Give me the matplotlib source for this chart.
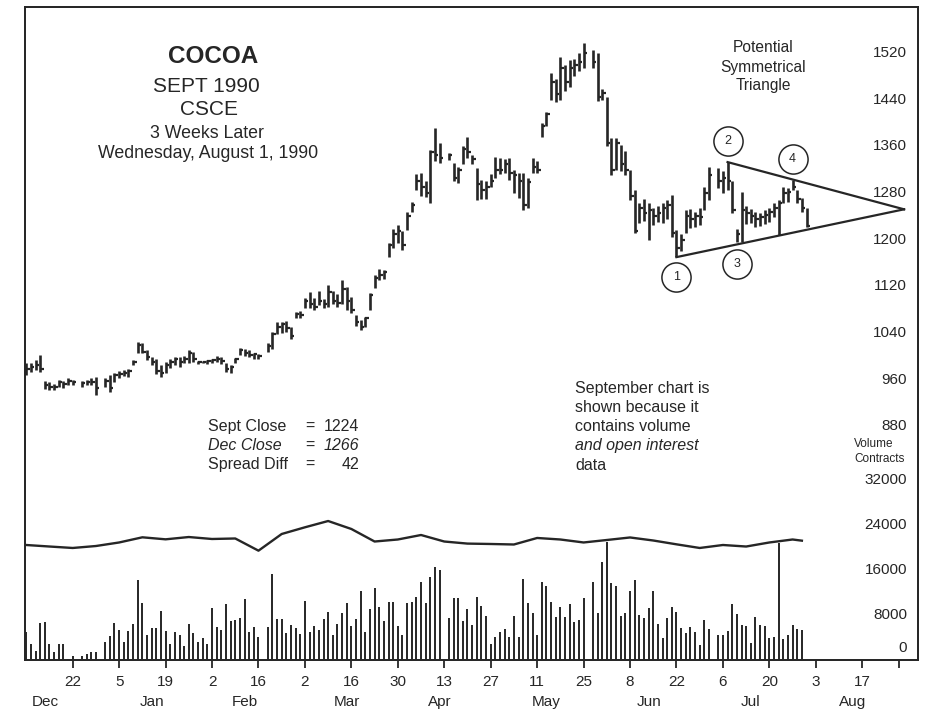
import numpy as np
import pandas as pd
import matplotlib
matplotlib.use('Agg')
import matplotlib.pyplot as plt

plt.rcParams['font.family'] = ['Liberation Sans', 'DejaVu Sans']

# ---------------- data ----------------
holidays = ['1989-12-25', '1990-01-01', '1990-02-19', '1990-04-13', '1990-05-28', '1990-07-04']
price_start, price_end = '1989-12-08', '1990-08-01'
volume_end = '1990-07-31'

high = [988,
        988, 993, 1002, 958, 955,
        952, 960, 958, 962, 960,
        958, 960, 962, 965,
        962, 968, 972, 975,
        976, 978, 993, 1024, 1022,
        1010, 998, 995, 985, 990,
        995, 999, 998, 1000, 1010,
        1008, 992, 992, 994, 995,
        1000, 998, 988, 985, 997,
        1014, 1012, 1010, 1006, 1004,
        1022, 1042, 1059, 1058,
        1060, 1050, 1076, 1078, 1100,
        1110, 1100, 1112, 1098, 1122,
        1112, 1106, 1131, 1118, 1102,
        1071, 1062, 1068, 1108, 1140,
        1150, 1148, 1195, 1218, 1225,
        1215, 1247, 1265, 1312, 1314,
        1300, 1354, 1391, 1365,
        1348, 1331, 1325, 1360, 1376,
        1345, 1323, 1302, 1300, 1312,
        1342, 1340, 1338, 1340, 1319,
        1315, 1314, 1305, 1340, 1335,
        1400, 1419, 1486, 1475, 1513,
        1500, 1508, 1510, 1520, 1537,
        1525, 1520, 1458, 1445,
        1375, 1375, 1362, 1352, 1320,
        1285, 1262, 1270, 1263, 1255,
        1258, 1263, 1268, 1276, 1216,
        1210, 1250, 1252, 1248, 1254,
        1290, 1324,
        1323, 1318,
        1333, 1300, 1218, 1282, 1258,
        1252, 1248, 1246, 1250, 1255,
        1262, 1268, 1290, 1288, 1302,
        1285, 1272, 1255]
low = [968,
       973, 976, 973, 944, 942,
       942, 948, 946, 950, 950,
       948, 950, 950, 934,
       948, 939, 955, 962,
       966, 964, 985, 1005, 1005,
       993, 985, 970, 964, 972,
       980, 985, 982, 988, 988,
       990, 986, 988, 986, 988,
       990, 986, 973, 972, 989,
       1002, 1000, 998, 996, 995,
       1008, 1012, 1038, 1040,
       1042, 1030, 1066, 1066, 1082,
       1082, 1079, 1088, 1082, 1085,
       1090, 1085, 1090, 1080, 1074,
       1052, 1045, 1050, 1079, 1117,
       1130, 1132, 1170, 1185, 1195,
       1182, 1216, 1247, 1285, 1275,
       1273, 1263, 1335, 1331,
       1336, 1300, 1297, 1330, 1340,
       1330, 1268, 1270, 1270, 1290,
       1305, 1312, 1315, 1302, 1280,
       1271, 1251, 1255, 1314, 1315,
       1376, 1395, 1440, 1436, 1440,
       1455, 1462, 1480, 1490, 1495,
       1495, 1438, 1440, 1360,
       1310, 1320, 1318, 1310, 1268,
       1211, 1228, 1232, 1200, 1225,
       1230, 1228, 1235, 1205, 1170,
       1180, 1212, 1220, 1222, 1225,
       1250, 1268,
       1288, 1280,
       1285, 1245, 1196, 1196, 1226,
       1228, 1222, 1224, 1226, 1230,
       1238, 1208, 1262, 1265, 1285,
       1262, 1248, 1222]
close = [978,
         982, 985, 978, 950, 948,
         948, 955, 952, 958, 955,
         954, 956, 955, 945,
         958, 945, 968, 970,
         972, 975, 990, 1020, 1008,
         998, 990, 975, 972, 985,
         990, 995, 990, 995, 1005,
         995, 990, 990, 992, 993,
         995, 992, 978, 982, 995,
         1010, 1005, 1002, 1004, 1000,
         1018, 1038, 1050, 1055,
         1048, 1035, 1072, 1070, 1095,
         1090, 1085, 1095, 1090, 1110,
         1095, 1092, 1115, 1095, 1080,
         1058, 1050, 1065, 1105, 1135,
         1140, 1145, 1190, 1210, 1215,
         1190, 1240, 1260, 1300, 1290,
         1280, 1350, 1345, 1340,
         1345, 1305, 1320, 1355, 1350,
         1338, 1295, 1285, 1290, 1300,
         1320, 1320, 1330, 1315, 1310,
         1300, 1260, 1298, 1325, 1320,
         1395, 1415, 1470, 1450, 1495,
         1470, 1495, 1500, 1505, 1520,
         1505, 1445, 1452, 1365,
         1320, 1365, 1330, 1320, 1275,
         1215, 1255, 1245, 1250, 1240,
         1245, 1255, 1260, 1212, 1185,
         1200, 1240, 1235, 1240, 1238,
         1280, 1310,
         1300, 1305,
         1300, 1250, 1210, 1250, 1245,
         1240, 1235, 1238, 1242, 1248,
         1255, 1262, 1280, 1282, 1290,
         1270, 1255, 1224]
volume = [5040,
          2850, 1660, 6530, 6700, 2850,
          1480, 2850, 2850, 100, 770,
          770, 1070, 1370, 1480,
          3260, 4330, 6640, 5340,
          3140, 5160, 6410, 14240, 10090,
          4450, 5640, 5640, 8780, 5220,
          2850, 5040, 4450, 2490, 6350,
          4870, 3140, 3980, 2850, 9320,
          5820, 5340, 9910, 7000, 7120,
          7420, 10860, 5040, 5930, 4150,
          5820, 15310, 7240, 7240,
          4750, 6170, 5640, 4630, 10560,
          4930, 6000, 5340, 7240, 8490,
          4450, 6350, 8430, 10200, 6050,
          7300, 12280, 5040, 9020, 12760,
          9490, 7000, 10320, 10320, 6050,
          4450, 10090, 10320, 11160, 13940,
          10200, 14720, 16610, 16020,
          7420, 11090, 11090, 7000, 9020,
          6230, 11270, 9670, 7830, 2850,
          4150, 5040, 5460, 4150, 7830,
          4150, 14420, 10200, 8310, 4450,
          13830, 13170, 10380, 7600, 9380,
          7710, 9910, 6820, 7120, 10980,
          13940, 8430, 17390, 21060,
          13760, 13170, 7890, 8310, 12280,
          14240, 8010, 7530, 9200, 12340,
          6350, 3970, 7530, 9490, 8600,
          5750, 4750, 5820, 4930, 2670,
          7120, 5520,
          4450, 4450,
          5220, 9910, 8130, 6230, 6110,
          2970, 7710, 6230, 6110, 3860,
          4040, 20770, 3680, 4450, 6230,
          5460, 5340]
oi_dates = ['1989-12-08', '1989-12-15', '1989-12-22', '1989-12-29', '1990-01-05', '1990-01-12',
            '1990-01-19', '1990-01-26', '1990-02-02', '1990-02-09', '1990-02-16', '1990-02-23',
            '1990-03-02', '1990-03-09', '1990-03-16', '1990-03-23', '1990-03-30', '1990-04-06',
            '1990-04-13', '1990-04-20', '1990-04-27', '1990-05-04', '1990-05-11', '1990-05-18',
            '1990-05-25', '1990-06-01', '1990-06-08', '1990-06-15', '1990-06-22', '1990-06-29',
            '1990-07-06', '1990-07-13', '1990-07-20', '1990-07-27', '1990-07-31']
open_interest = [20470, 20200, 19940, 20290, 20920, 21840,
                 21480, 21890, 21540, 21630, 19460, 22430,
                 23620, 24740, 23320, 21090, 21450, 22250,
                 21090, 20720, 20650, 20560, 21720, 21450,
                 20920, 21360, 21810, 21270, 20590, 19940,
                 20470, 20200, 20920, 21450, 21240]

tick_dates = ['1989-12-22', '1990-01-05', '1990-01-19', '1990-02-02', '1990-02-16', '1990-03-02',
              '1990-03-16', '1990-03-30', '1990-04-13', '1990-04-27', '1990-05-11', '1990-05-25',
              '1990-06-08', '1990-06-22', '1990-07-06', '1990-07-20', '1990-08-03', '1990-08-17']
tick_labels = ['22', '5', '19', '2', '16', '2', '16', '30', '13', '27', '11', '25',
               '8', '22', '6', '20', '3', '17']
end_tick_date = '1990-08-29'
month_dates = ['1989-12-14', '1990-01-16', '1990-02-13', '1990-03-15', '1990-04-12',
               '1990-05-15', '1990-06-14', '1990-07-16', '1990-08-15']
month_labels = ['Dec', 'Jan', 'Feb', 'Mar', 'Apr', 'May', 'Jun', 'Jul', 'Aug']
price_ticks = [880, 960, 1040, 1120, 1200, 1280, 1360, 1440, 1520]
volume_ticks = [0, 8000, 16000, 24000, 32000]

tri_low_dates, tri_low_prices = ['1990-06-22', '1990-08-30'], [1170, 1252]
tri_high_dates, tri_high_prices = ['1990-07-09', '1990-08-30'], [1333, 1252]
circle_labels = ['1', '2', '3', '4']
circle_dates = ['1990-06-22', '1990-07-09', '1990-07-11', '1990-07-27']
circle_prices = [1136, 1369, 1158, 1338]

# ---------------- helpers ----------------
ORIGIN = np.datetime64('1989-12-22')


def xpos(dates):
    d = np.array(dates, dtype='datetime64[D]')
    return np.busday_count(ORIGIN, d).astype(float)


def trading_days(start, end):
    days = pd.bdate_range(start, end)
    days = days[~days.isin(pd.to_datetime(holidays))]
    return days.values.astype('datetime64[D]')


price_x = xpos(trading_days(price_start, price_end))
vol_x = xpos(trading_days(price_start, volume_end))
assert len(price_x) == len(high) == len(low) == len(close)
assert len(vol_x) == len(volume)

INK = '#262626'
W, H = 932, 723
fig = plt.figure(figsize=(W / 100, H / 100), dpi=100)
fig.patch.set_facecolor('white')

L, R, T, B = 25, 918, 7, 660
ax = fig.add_axes([L / W, 1 - B / H, (R - L) / W, (B - T) / H])
ax.set_xlim(-10.27, 182.0)
ax.set_ylim(479, 1599)
ax2 = ax.twinx()
ax2.set_ylim(0, (B - T) * 178)

for a in (ax, ax2):
    for s in a.spines.values():
        s.set_color(INK)
        s.set_linewidth(1.3)
    a.set_yticks([])

# price bars
ax.vlines(price_x, low, high, color=INK, lw=1.9)
ax.hlines(close, price_x, price_x + 0.75, color=INK, lw=1.6)

# volume and open interest
ax2.vlines(vol_x, 0, volume, color=INK, lw=1.4)
ax2.plot(xpos(oi_dates), open_interest, color=INK, lw=1.7)

# triangle
ax.plot(xpos(tri_low_dates), tri_low_prices, color=INK, lw=1.6)
ax.plot(xpos(tri_high_dates), tri_high_prices, color=INK, lw=1.6)
cx = xpos(circle_dates)
ax.plot(cx, circle_prices, 'o', ms=21, mfc='none', mec=INK, mew=1.1)
for lab, xx, yy in zip(circle_labels, cx, circle_prices):
    ax.text(xx, yy, lab, ha='center', va='center', fontsize=9, color=INK)

# x axis
ax.set_xticks(list(xpos(tick_dates)) + [xpos([end_tick_date])[0]])
ax.set_xticklabels(tick_labels + [''])
ax.tick_params(axis='x', which='major', direction='out', length=6, width=1.3,
               pad=5, labelsize=11, colors=INK)
ax.set_xticks(xpos(month_dates), minor=True)
ax.set_xticklabels(month_labels, minor=True)
ax.tick_params(axis='x', which='minor', length=0, pad=25, labelsize=11, colors=INK)

# y labels inside the frame
lab_x = (907 - L) / (R - L)
for p in price_ticks:
    ax.text(lab_x, p, str(p), transform=ax.get_yaxis_transform(), ha='right',
            va='center', fontsize=11, color=INK)
for v in volume_ticks:
    ax2.annotate(str(v), xy=(lab_x, v), xycoords=ax2.get_yaxis_transform(),
                 xytext=(0, 8.5 if v == 0 else 0), textcoords='offset points',
                 ha='right', va='center', fontsize=11, color=INK)


def ftext(px, py, s, **kw):
    kw.setdefault('color', INK)
    fig.text(px / W, 1 - py / H, s, va='baseline', **kw)


ftext(213, 63, 'COCOA', ha='center', fontsize=17.5, fontweight='bold')
ftext(206, 92, 'SEPT 1990', ha='center', fontsize=15)
ftext(209, 115, 'CSCE', ha='center', fontsize=15)
ftext(207, 138, '3 Weeks Later', ha='center', fontsize=12.8)
ftext(208, 158, 'Wednesday, August 1, 1990', ha='center', fontsize=12.8)

ftext(763, 51.7, 'Potential', ha='center', fontsize=11.2)
ftext(763, 71.7, 'Symmetrical', ha='center', fontsize=11.2)
ftext(763, 90, 'Triangle', ha='center', fontsize=11.2)

rows = [('Sept Close', '1224', 'normal'), ('Dec Close', '1266', 'italic'),
        ('Spread Diff', '42', 'normal')]
for (lab, val, st), by in zip(rows, [430.7, 450, 469]):
    ftext(208.3, by, lab, ha='left', fontsize=11.5, style=st)
    ftext(310, by, '=', ha='center', fontsize=11.5)
    ftext(359.3, by, val, ha='right', fontsize=11.5, style=st)

note = [('September chart is', 'normal'), ('shown because it', 'normal'),
        ('contains volume', 'normal'), ('and open interest', 'italic'), ('data', 'normal')]
for (s, st), by in zip(note, [392.7, 411.7, 430.7, 450, 470]):
    ftext(575, by, s, ha='left', fontsize=11.5, style=st)

ftext(854.3, 447, 'Volume', ha='left', fontsize=8.5)
ftext(854.3, 462, 'Contracts', ha='left', fontsize=8.5)

fig.savefig('out.png', dpi=100, facecolor='white')
